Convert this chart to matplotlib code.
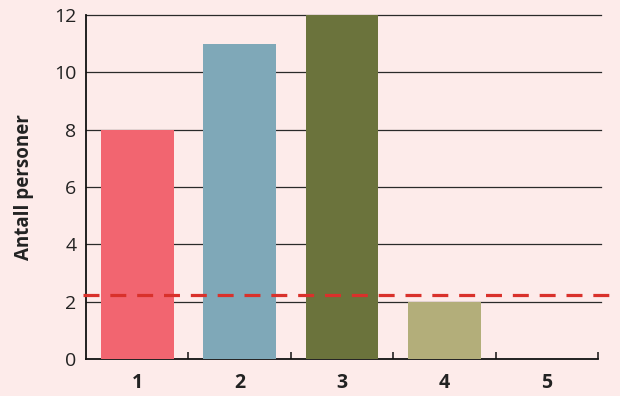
import matplotlib.pyplot as plt
from matplotlib.ticker import FixedLocator

plt.rcParams["font.family"] = ["Open Sans", "DejaVu Sans"]

categories = ["1", "2", "3", "4", "5"]
counts = [8, 11, 12, 2, 0]
bar_colors = ["#f26570", "#7fa8b8", "#6b733c", "#b3ae7a", "#b3ae7a"]
reference_level = 2.23
y_ticks = [0, 2, 4, 6, 8, 10, 12]

bg = "#fdebea"

fig = plt.figure(figsize=(6.2, 3.96), dpi=100, facecolor=bg)
ax = fig.add_axes([0.1387, 0.0934, 0.8258, 0.8686], facecolor=bg)

positions = range(1, len(categories) + 1)
ax.bar(positions, counts, width=0.71, color=bar_colors, zorder=3)

ax.set_xlim(0.5, 5.5)
ax.set_ylim(0, 12)

# horizontal grid lines run a little past the last tick
for y in y_ticks[1:]:
    ax.axhline(y, xmin=0, xmax=1.006, color="#2a2a2a", lw=0.9, zorder=1, clip_on=False)

# dashed reference line runs to the right edge of the figure
ax.axhline(reference_level, xmin=-0.005, xmax=1.1, color="#d9312b", lw=2.3,
           dashes=(5.0, 3.4), zorder=4, clip_on=False)

ax.set_xticks(list(positions))
ax.set_xticklabels(categories, fontsize=14, fontweight="bold", color="#222222")
ax.xaxis.set_minor_locator(FixedLocator([1.5, 2.5, 3.5, 4.5, 5.5]))
ax.tick_params(axis="x", which="major", length=0, pad=10)
ax.tick_params(axis="x", which="minor", direction="in", length=5, width=1.1, color="#111111")

ax.set_yticks(y_ticks)
ax.tick_params(axis="y", length=0, pad=7, labelsize=14, labelcolor="#222222")

ax.set_ylabel("Antall personer", fontsize=13.5, fontweight="bold", color="#222222", labelpad=14)

for side in ["top", "right"]:
    ax.spines[side].set_visible(False)
for side in ["left", "bottom"]:
    ax.spines[side].set_linewidth(1.3)
    ax.spines[side].set_color("#111111")

fig.savefig("out.png", dpi=100, facecolor=bg)
